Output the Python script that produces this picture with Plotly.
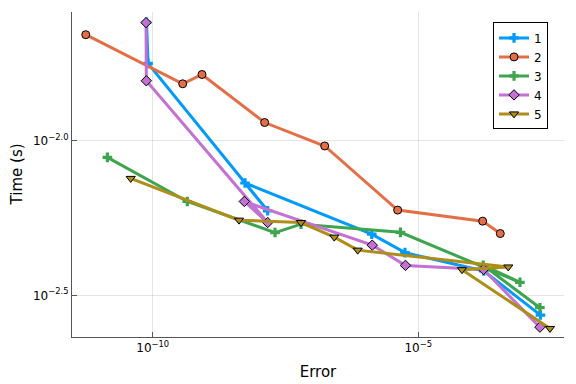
import plotly.graph_objects as go

# Work-precision data (Error, Time in s)
err1 = [7.64e-11, 8.16e-11, 1.46e-8, 5.46e-9, 1.33e-6, 5.62e-6, 1.71e-4, 2.00e-3]
time1 = [0.02422, 0.01782, 0.005938, 0.007306, 0.004989, 0.004346, 0.003792, 0.002729]

err2 = [5.48e-12, 3.67e-10, 8.47e-10, 1.28e-8, 1.73e-7, 4.09e-6, 1.63e-4, 3.50e-4]
time2 = [0.02208, 0.01531, 0.01641, 0.01147, 0.00963, 0.005970, 0.005498, 0.005012]

err3 = [1.40e-11, 4.48e-10, 2.01e-8, 6.19e-8, 4.62e-6, 8.21e-4, 1.67e-4, 1.95e-3]
time3 = [0.008846, 0.006366, 0.005049, 0.005375, 0.005057, 0.003485, 0.003957, 0.002883]

err4 = [7.48e-11, 7.58e-11, 1.46e-8, 5.30e-9, 1.36e-6, 5.74e-6, 1.69e-4, 1.95e-3]
time4 = [0.02416, 0.01566, 0.005440, 0.006366, 0.004596, 0.003952, 0.003835, 0.002494]

err5 = [3.85e-11, 4.21e-9, 6.19e-8, 2.62e-7, 7.23e-7, 4.95e-4, 6.65e-5, 3.02e-3]
time5 = [0.007562, 0.005539, 0.005440, 0.004880, 0.004429, 0.003907, 0.003829, 0.002470]

names = ["1", "2", "3", "4", "5"]
colors = ["#009AFA", "#E36F47", "#3EA44E", "#C371D2", "#AC8E18"]
symbols = ["cross", "circle", "cross", "diamond", "triangle-down"]

xt_vals = [1e-10, 1e-5]
xt_text = ["10<sup>−10</sup>", "10<sup>−5</sup>"]
yt_vals = [10 ** -2.0, 10 ** -2.5]
yt_text = ["10<sup>−2.0</sup>", "10<sup>−2.5</sup>"]

series = [(err1, time1), (err2, time2), (err3, time3), (err4, time4), (err5, time5)]

fig = go.Figure()
for (x, y), nm, c, s in zip(series, names, colors, symbols):
    if s == "cross":
        mk = dict(symbol=s, size=8, color=c, line=dict(width=0))
    else:
        mk = dict(symbol=s, size=8, color=c, line=dict(width=1, color="black"))
    fig.add_trace(go.Scatter(x=x, y=y, mode="lines+markers", name=nm,
                             line=dict(color=c, width=3), marker=mk))

# the page body has an 8px margin, so the figure is 8px smaller and shifted
fig.update_layout(
    width=568, height=376,
    margin=dict(l=64, r=12, t=4, b=47, autoexpand=False),
    plot_bgcolor="white", paper_bgcolor="white",
    font=dict(family="DejaVu Sans", color="black", size=12),
    showlegend=True,
    legend=dict(x=0.9675, y=0.968, xanchor="right", yanchor="top",
                bgcolor="white", bordercolor="black", borderwidth=1,
                font=dict(size=12), tracegroupgap=0, itemwidth=30),
    xaxis=dict(type="log", range=[-11.52, -2.256], tickvals=xt_vals, ticktext=xt_text,
               automargin=False,
               showgrid=True, gridcolor="rgba(0,0,0,0.1)", gridwidth=0.5,
               showline=True, linecolor="#555", linewidth=1, mirror=False,
               ticks="inside", ticklen=5, tickcolor="#555", zeroline=False,
               title=dict(text="Error", font=dict(size=15), standoff=12)),
    yaxis=dict(type="log", range=[-2.635, -1.5825], tickvals=yt_vals, ticktext=yt_text,
               automargin=False,
               showgrid=True, gridcolor="rgba(0,0,0,0.1)", gridwidth=0.5,
               showline=True, linecolor="#555", linewidth=1, mirror=False,
               ticks="inside", ticklen=5, tickcolor="#555", zeroline=False),
    annotations=[dict(text="Time (s)", xref="paper", yref="paper", x=-0.112, y=0.5,
                      xanchor="center", yanchor="middle", textangle=-90,
                      showarrow=False, font=dict(size=15))],
)

fig.write_html("out.html")
